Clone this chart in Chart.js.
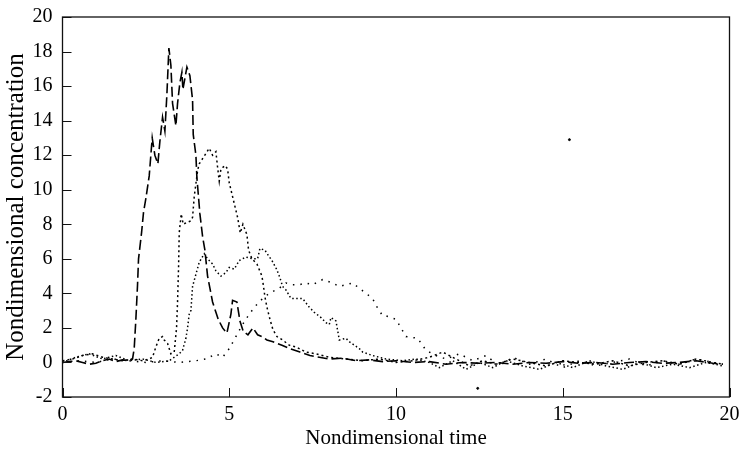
<!DOCTYPE html>
<html>
<head>
<meta charset="utf-8">
<script src="https://cdn.jsdelivr.net/npm/chart.js@4.4.1/dist/chart.umd.min.js"></script>
<style>
  html, body { margin: 0; padding: 0; background: #fff; }
  #wrap { width: 740px; height: 451px; }
</style>
</head>
<body>
<div id="wrap"><canvas id="chart" width="740" height="451"></canvas></div>
<script>
/* AXIS TICKS */
const xTicks = [0, 5, 10, 15, 20];
const yTicks = [-2, 0, 2, 4, 6, 8, 10, 12, 14, 16, 18, 20];

/* SERIES A - long dash, first arrival */
const aTime = [0, 0.2, 0.4, 0.6, 0.8, 1.0, 1.2, 1.4, 1.6, 1.8, 2.0, 2.1, 2.15, 2.2, 2.25, 2.28, 2.37, 2.43, 2.5, 2.6, 2.69, 2.77, 2.86, 2.92, 3.0, 3.07, 3.13, 3.19, 3.25, 3.3, 3.4, 3.45, 3.52, 3.58, 3.61, 3.73, 3.82, 3.9, 3.92, 4.0, 4.03, 4.12, 4.2, 4.27, 4.35, 4.5, 4.6, 4.67, 4.8, 4.93, 5.05, 5.1, 5.23, 5.32, 5.42, 5.56, 5.71, 5.85, 5.98, 6.13, 6.31, 6.58, 6.82, 7.12, 7.42, 7.7, 8.0, 8.4, 8.8, 9.2, 9.6, 10.0, 10.5, 11.0, 11.5, 12.0, 12.5, 13.0, 13.5, 14.0, 14.5, 15.0, 15.5, 16.0, 16.5, 17.0, 17.5, 18.0, 18.5, 19.0, 19.5, 19.8];
const aConc = [0.0, 0.05, 0.1, 0.0, -0.1, -0.05, 0.1, 0.2, 0.05, 0.15, 0.1, 0.2, 0.8, 2.5, 4.5, 6.0, 7.5, 8.7, 9.5, 10.8, 13.0, 12.0, 11.5, 12.8, 14.2, 13.4, 15.5, 18.2, 17.2, 15.0, 13.7, 15.0, 16.2, 16.8, 15.8, 17.1, 16.6, 15.2, 13.2, 12.0, 10.7, 8.6, 7.3, 6.5, 5.0, 3.5, 2.9, 2.5, 2.0, 1.7, 2.8, 3.6, 3.5, 2.4, 1.8, 1.6, 2.0, 1.6, 1.5, 1.3, 1.2, 1.0, 0.8, 0.6, 0.4, 0.3, 0.2, 0.25, 0.1, 0.15, 0.05, 0.1, 0.0, 0.05, -0.1, 0.0, -0.05, 0.0, -0.1, 0.0, -0.05, 0.05, -0.05, 0.0, -0.1, 0.0, 0.05, -0.05, 0.0, 0.1, -0.05, -0.1];

/* SERIES B - dash dot, second arrival */
const bTime = [0, 0.3, 0.6, 0.9, 1.2, 1.5, 1.8, 2.1, 2.4, 2.6, 2.7, 2.8, 2.9, 3.0, 3.05, 3.15, 3.25, 3.35, 3.42, 3.45, 3.48, 3.5, 3.56, 3.62, 3.72, 3.85, 3.9, 3.95, 4.05, 4.1, 4.2, 4.3, 4.4, 4.5, 4.6, 4.65, 4.7, 4.75, 4.88, 4.95, 5.0, 5.05, 5.15, 5.25, 5.33, 5.41, 5.53, 5.58, 5.68, 5.83, 5.98, 6.02, 6.07, 6.13, 6.22, 6.31, 6.43, 6.6, 6.8, 7.0, 7.3, 7.6, 8.0, 8.5, 9.0, 9.5, 10.0, 10.5, 11.0, 11.4, 11.8, 12.2, 12.6, 13.0, 13.5, 14.0, 14.5, 15.0, 15.5, 16.0, 16.5, 17.0, 17.5, 18.0, 18.5, 19.0, 19.5, 19.8];
const bConc = [0.1, 0.2, 0.4, 0.5, 0.3, 0.2, 0.1, 0.2, 0.1, 0.2, 0.3, 0.9, 1.4, 1.5, 1.3, 1.1, 0.5, 0.6, 2.0, 3.5, 5.5, 7.5, 8.6, 8.0, 8.1, 8.2, 8.4, 9.6, 11.1, 11.5, 11.8, 12.1, 12.4, 12.0, 12.2, 11.3, 10.5, 11.2, 11.4, 11.2, 10.4, 10.0, 9.2, 8.4, 7.5, 8.0, 7.4, 6.5, 6.0, 5.7, 5.0, 4.5, 3.8, 3.2, 2.5, 1.9, 1.5, 1.3, 1.0, 0.9, 0.6, 0.5, 0.3, 0.2, 0.1, 0.2, 0.0, 0.1, 0.3, 0.6, 0.2, -0.2, 0.1, -0.1, 0.2, 0.0, -0.2, 0.1, 0.0, -0.1, 0.1, -0.2, 0.0, 0.1, -0.1, 0.2, 0.0, -0.1];

/* SERIES C - dotted, third arrival */
const cTime = [0, 0.4, 0.8, 1.2, 1.6, 2.0, 2.4, 2.8, 3.2, 3.35, 3.5, 3.6, 3.7, 3.75, 3.8, 3.85, 3.9, 4.0, 4.1, 4.25, 4.35, 4.5, 4.6, 4.75, 4.9, 5.0, 5.15, 5.3, 5.5, 5.7, 5.85, 5.92, 6.07, 6.17, 6.28, 6.42, 6.52, 6.6, 6.7, 6.85, 7.0, 7.2, 7.4, 7.55, 7.75, 7.9, 8.0, 8.05, 8.2, 8.3, 8.5, 8.6, 8.9, 9.0, 9.3, 9.7, 10.2, 10.6, 11.0, 11.3, 11.7, 12.1, 12.5, 12.9, 13.3, 13.8, 14.3, 14.8, 15.3, 15.8, 16.3, 16.8, 17.3, 17.8, 18.3, 18.8, 19.3, 19.8];
const cConc = [0.0, 0.3, 0.5, 0.2, 0.4, 0.1, 0.2, 0.0, 0.1, 0.3, 0.5, 0.7, 1.4, 2.0, 2.8, 3.0, 4.4, 5.1, 5.8, 6.3, 6.0, 5.7, 5.3, 5.0, 5.2, 5.5, 5.4, 5.9, 6.1, 6.0, 6.0, 6.6, 6.5, 6.2, 5.9, 5.4, 4.9, 4.4, 4.2, 3.7, 3.7, 3.7, 3.2, 2.9, 2.6, 2.3, 2.2, 2.6, 2.4, 1.3, 1.4, 1.2, 0.8, 0.6, 0.4, 0.2, 0.1, 0.2, 0.0, -0.3, 0.1, -0.4, 0.0, -0.3, 0.1, -0.2, -0.4, 0.0, -0.3, 0.1, -0.2, -0.4, 0.0, -0.3, -0.1, -0.3, 0.0, -0.2];

/* SERIES D - sparse dots, fourth arrival */
const dTime = [0, 0.5, 1.0, 1.5, 2.0, 2.5, 3.0, 3.5, 4.0, 4.3, 4.6, 4.8, 5.0, 5.2, 5.4, 5.6, 5.8, 6.0, 6.2, 6.5, 6.7, 6.9, 7.1, 7.3, 7.5, 7.8, 8.1, 8.3, 8.7, 8.9, 9.3, 9.4, 9.6, 9.7, 10.0, 10.3, 10.65, 10.9, 11.2, 11.5, 11.9, 12.3, 12.7, 13.1, 13.5, 14.0, 14.5, 15.0, 15.5, 16.0, 16.5, 17.0, 17.5, 18.0, 18.5, 19.0, 19.5, 19.8];
const dConc = [0.0, 0.1, 0.0, 0.2, 0.1, 0.0, 0.1, 0.0, 0.1, 0.2, 0.5, 0.3, 0.8, 1.5, 2.2, 2.8, 3.3, 3.7, 4.0, 4.3, 4.6, 4.5, 4.5, 4.6, 4.5, 4.8, 4.6, 4.4, 4.6, 4.3, 3.7, 3.3, 2.7, 2.7, 2.5, 1.5, 1.4, 0.7, 0.4, 0.2, 0.5, 0.1, 0.4, -0.2, 0.3, -0.1, 0.2, -0.3, 0.1, -0.2, 0.0, 0.2, -0.2, 0.1, -0.1, 0.2, 0.0, -0.1];

/* STRAY MARKS */
const markTime = [15.2, 12.45];
const markConc = [12.9, -1.5];

const pts = (t, c) => t.map((v, i) => ({ x: v, y: c[i] }));

const serif = "'Liberation Serif', 'DejaVu Serif', serif";

/* FRAME + INWARD TICKS */
const framePlugin = {
    id: 'frame',
    afterDraw(chart) {
        const { ctx, chartArea: a, scales } = chart;
        ctx.save();
        ctx.strokeStyle = '#111';
        ctx.lineWidth = 1.3;
        ctx.strokeRect(a.left, a.top, a.right - a.left, a.bottom - a.top);
        ctx.lineWidth = 1;
        ctx.beginPath();
        xTicks.forEach(v => {
            const px = Math.round(scales.x.getPixelForValue(v)) + 0.5;
            ctx.moveTo(px, a.bottom);
            ctx.lineTo(px, a.bottom - 9);
        });
        yTicks.forEach(v => {
            const py = Math.round(scales.y.getPixelForValue(v)) + 0.5;
            ctx.moveTo(a.left, py);
            ctx.lineTo(a.left + 9, py);
        });
        ctx.stroke();
        ctx.restore();
    }
};

const line = (label, data, dash, width) => ({
    label: label,
    data: data,
    borderColor: '#000',
    borderWidth: width,
    borderDash: dash,
    pointRadius: 0,
    fill: false,
    tension: 0
});

let ctx = document.getElementById("chart").getContext("2d");

let chart = new Chart(ctx, {
    type: 'line',
    data: {
        datasets: [
            line("A", pts(aTime, aConc), [10, 4], 1.6),
            line("B", pts(bTime, bConc), [2, 3], 1.5),
            line("C", pts(cTime, cConc), [1.5, 2.5], 1.5),
            line("D", pts(dTime, dConc), [1.5, 6], 1.5),
            {
                type: 'scatter',
                label: "marks",
                data: pts(markTime, markConc),
                pointRadius: 1,
                backgroundColor: '#000',
                borderColor: '#000'
            }
        ]
    },
    options: {
        responsive: false,
        animation: false,
        layout: { padding: { top: 17, right: 10.5, left: 0, bottom: 0 } },
        plugins: {
            legend: { display: false },
            tooltip: { enabled: false }
        },
        scales: {
            x: {
                type: 'linear',
                min: 0,
                max: 20,
                afterFit: s => { s.height = 54; s.paddingLeft = 0; s.paddingRight = 0; },
                afterBuildTicks: s => { s.ticks = xTicks.map(v => ({ value: v })); },
                grid: { display: false, drawTicks: false },
                border: { display: false },
                ticks: { color: '#000', padding: 6, font: { family: serif, size: 20 } },
                title: {
                    display: true,
                    text: 'Nondimensional time',
                    color: '#000',
                    padding: { top: 0, bottom: 0 },
                    font: { family: serif, size: 21 }
                }
            },
            y: {
                type: 'linear',
                min: -2,
                max: 20,
                afterFit: s => { s.width = 62.5; s.paddingTop = 0; s.paddingBottom = 0; },
                afterBuildTicks: s => { s.ticks = yTicks.map(v => ({ value: v })); },
                grid: { display: false, drawTicks: false },
                border: { display: false },
                ticks: { color: '#000', padding: 10, font: { family: serif, size: 20 } },
                title: {
                    display: true,
                    text: 'Nondimensional concentration',
                    color: '#000',
                    padding: { top: 1, bottom: 0 },
                    font: { family: serif, size: 25 }
                }
            }
        }
    },
    plugins: [framePlugin]
});
</script>
</body>
</html>
